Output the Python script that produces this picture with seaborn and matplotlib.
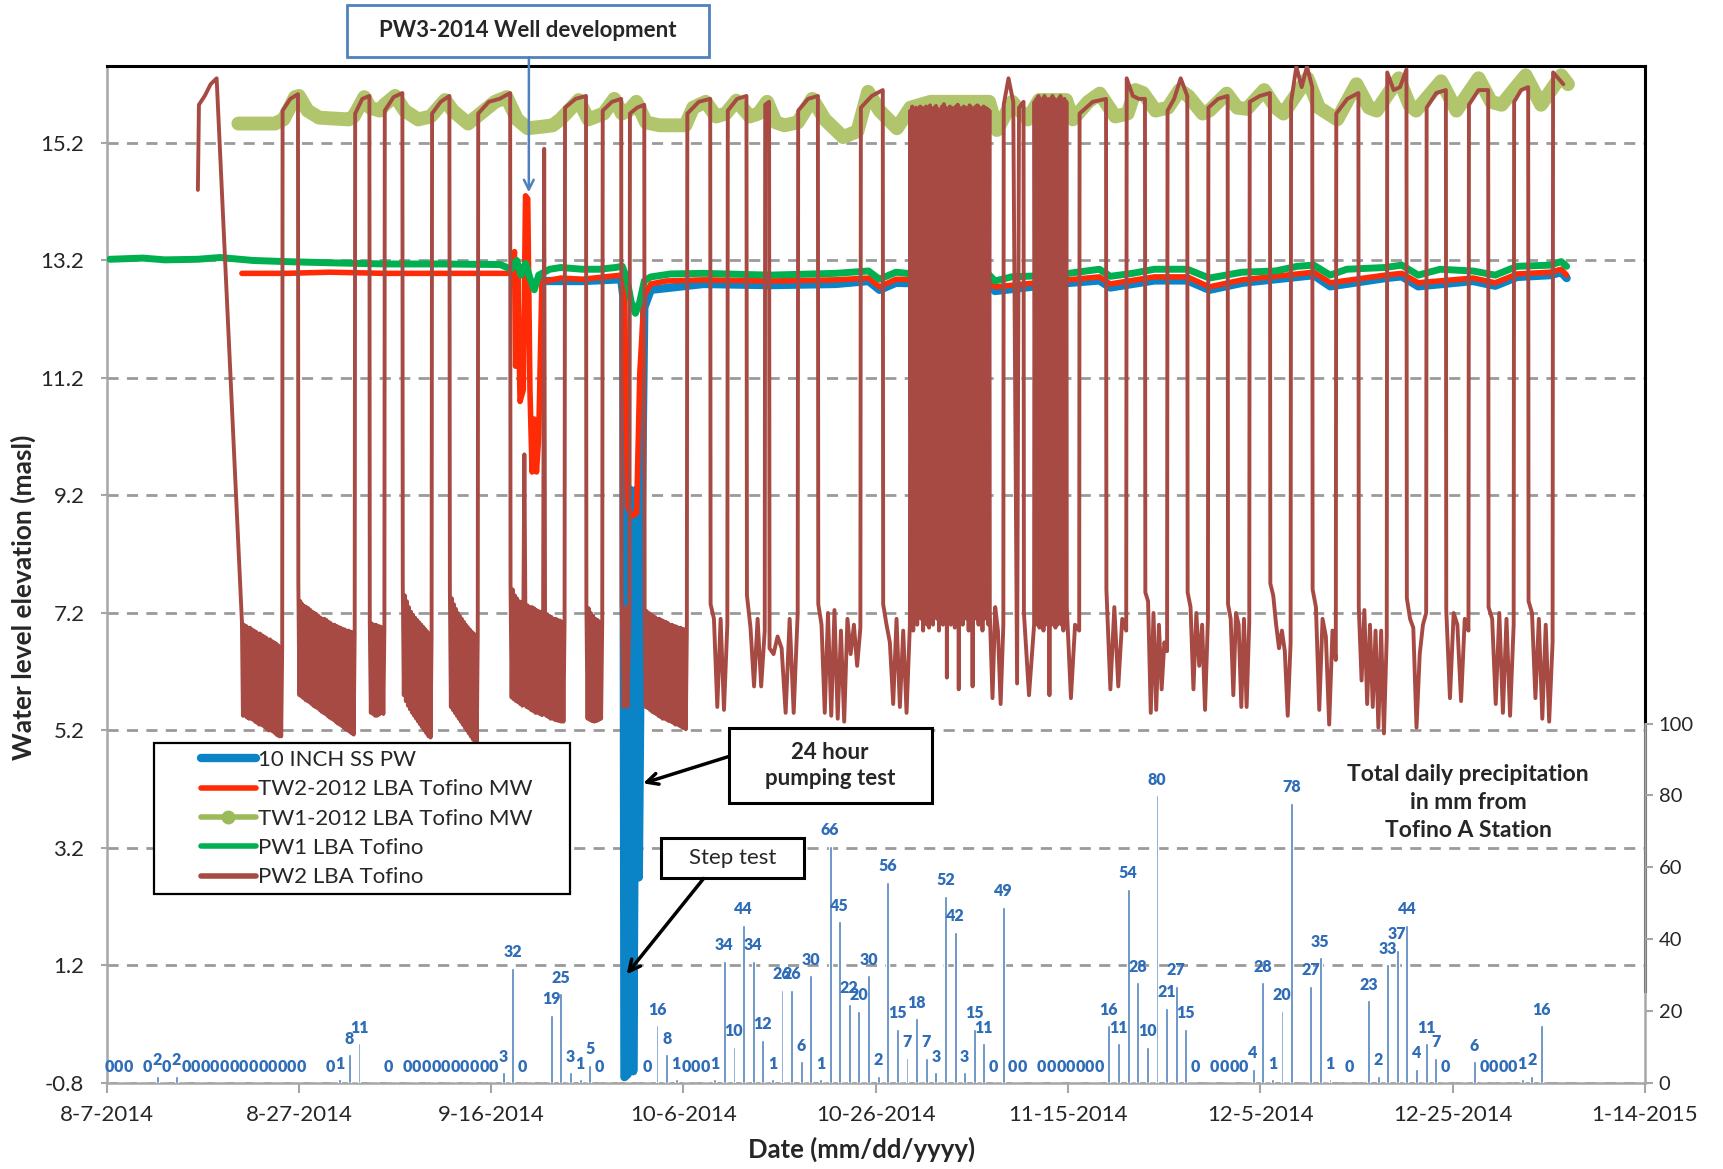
import numpy as np
import pandas as pd
import matplotlib
matplotlib.use("Agg")
import matplotlib.pyplot as plt
import seaborn as sns
from matplotlib.lines import Line2D
from matplotlib.patches import Rectangle
from matplotlib.legend_handler import HandlerLine2D
import matplotlib.ticker as mticker
import matplotlib.dates as mdates

# ------------------------------------------------------------------ data
START = pd.Timestamp("2014-08-07")
date_ticks = ["2014-08-07", "2014-08-27", "2014-09-16", "2014-10-06", "2014-10-26",
              "2014-11-15", "2014-12-05", "2014-12-25", "2015-01-14"]
level_ticks = [-0.8, 1.2, 3.2, 5.2, 7.2, 9.2, 11.2, 13.2, 15.2]
precip_ticks = [0, 20, 40, 60, 80, 100]

series_labels = ["10 INCH SS PW", "TW2-2012 LBA Tofino MW", "TW1-2012 LBA Tofino MW",
                 "PW1 LBA Tofino", "PW2 LBA Tofino"]

# days since 2014-08-07
blue_day = [45.74, 49.51, 53.52, 53.74, 53.86, 54.2, 54.43, 54.66, 54.77, 55.12,
            55.35, 55.69, 55.92, 56.6, 62.09, 68.95, 75.81, 79.25, 80.39, 82.1,
            91.82, 92.4, 98.69, 103.26, 104.4, 108.98, 112.41, 114.69, 118.12, 123.84,
            125.56, 127.27, 132.99, 134.71, 136.42, 142.14, 144.43, 146.71, 150.14, 151.29, 151.86]
blue_level = [12.85, 12.85, 12.88, 12.6, -0.7, -0.65, 9.3, 9.2, -0.6, 9.3,
              2.7, 9.3, 12.4, 12.7, 12.8, 12.78, 12.8, 12.85, 12.7, 12.82,
              12.78, 12.68, 12.8, 12.86, 12.74, 12.86, 12.86, 12.7, 12.82, 12.92,
              12.95, 12.76, 12.9, 12.93, 12.76, 12.85, 12.77, 12.92, 12.95, 13.0, 12.9]

tw2_day = [14.07, 18.64, 23.21, 28.93, 34.65, 41.51, 42.2, 42.42, 42.54, 42.77,
           43.0, 43.34, 43.57, 43.8, 44.03, 44.25, 44.48, 44.71, 44.94, 45.28,
           45.74, 47.23, 49.51, 51.8, 53.52, 53.86, 54.2, 54.66, 55.12, 55.46,
           55.92, 56.6, 58.2, 62.09, 68.95, 75.81, 79.25, 80.39, 82.1, 91.82,
           92.4, 98.69, 103.26, 104.4, 108.98, 112.41, 114.69, 118.12, 123.84, 125.56,
           127.27, 132.99, 134.71, 136.42, 142.14, 144.43, 146.71, 150.14, 151.29, 151.86]
tw2_level = [12.98, 12.98, 13.0, 12.98, 12.98, 12.98, 12.98, 13.35, 11.4, 12.9,
             10.8, 11.0, 14.3, 14.25, 11.0, 9.6, 10.5, 9.6, 10.2, 12.9,
             12.85, 12.9, 12.88, 12.92, 12.95, 12.7, 9.0, 8.85, 8.9, 11.3,
             12.6, 12.8, 12.85, 12.87, 12.85, 12.87, 12.9, 12.75, 12.88, 12.85,
             12.75, 12.85, 12.92, 12.8, 12.92, 12.92, 12.75, 12.87, 12.97, 13.0,
             12.82, 12.95, 12.98, 12.82, 12.9, 12.82, 12.97, 13.0, 13.05, 12.95]

tw1_day = [13.7, 17.5, 18.4, 19.6, 20.0, 20.9, 22.1, 25.2, 25.7, 26.8, 27.4, 28.4, 28.9,
           30.0, 31.0, 32.4, 33.7, 35.2, 36.0, 37.6, 38.5, 40.4, 41.6, 42.7, 43.8, 45.5,
           46.4, 47.2, 49.1, 50.1, 51.7, 52.8, 53.6, 54.3, 55.1, 56.1, 57.5, 60.2, 61.0,
           62.3, 63.4, 64.4, 65.5, 66.9, 67.8, 68.7, 69.6, 70.5, 71.9, 73.4, 74.7, 76.6,
           78.1, 79.2, 80.4, 82.2, 83.6, 85.7, 91.8, 92.6, 94.2, 95.8, 97.0, 99.8, 100.5,
           102.1, 103.3, 104.9, 106.2, 107.0, 107.8, 109.1, 110.4, 111.6, 112.5, 114.0,
           114.7, 116.5, 117.6, 118.6, 120.4, 121.6, 122.4, 124.9, 126.1, 128.0, 130.0,
           131.3, 132.1, 134.4, 135.5, 136.2, 138.8, 140.4, 142.7, 144.0, 145.1, 147.6,
           149.2, 151.3, 152.0]
tw1_level = [15.53, 15.53, 15.6, 15.98, 16.0, 15.75, 15.63, 15.6, 15.65, 15.98, 15.8, 15.75,
             15.85, 16.0, 15.75, 15.6, 15.65, 15.93, 15.75, 15.53, 15.65, 15.9, 15.98, 15.6,
             15.45, 15.48, 15.5, 15.6, 15.93, 15.6, 15.7, 15.95, 15.7, 15.75, 15.9, 15.55,
             15.5, 15.5, 15.8, 15.9, 15.65, 15.7, 15.92, 15.65, 15.7, 15.9, 15.55, 15.5,
             15.55, 15.95, 15.6, 15.3, 15.4, 16.07, 15.75, 15.45, 15.8, 15.9, 15.9, 15.42,
             15.9, 15.6, 15.93, 15.93, 15.6, 15.9, 16.04, 15.65, 15.7, 16.1, 16.05, 15.75,
             15.8, 16.1, 16.0, 15.7, 15.75, 16.04, 15.8, 15.78, 16.1, 15.8, 15.7, 16.3,
             15.8, 15.6, 16.2, 15.8, 15.75, 16.3, 15.85, 15.75, 16.25, 15.75, 16.3, 15.9,
             15.85, 16.35, 15.85, 16.35, 16.2]

pw1_day = [0.34, 3.77, 6.06, 9.49, 11.78, 15.21, 18.64, 23.21, 28.93, 34.65, 40.94, 42.08,
           42.65, 43.11, 43.57, 44.03, 44.48, 44.94, 46.08, 47.23, 49.51, 51.23, 52.94,
           53.63, 54.09, 54.55, 55.0, 55.46, 55.92, 56.6, 58.66, 62.09, 68.95, 75.81,
           79.25, 80.39, 82.1, 83.82, 91.82, 92.4, 94.11, 98.69, 100.97, 103.26, 104.4,
           106.69, 108.98, 112.41, 114.69, 118.12, 121.56, 123.84, 125.56, 127.27, 128.99,
           132.99, 134.71, 136.42, 138.71, 142.14, 144.43, 146.71, 150.14, 151.29, 151.86]
pw1_level = [13.22, 13.24, 13.21, 13.22, 13.25, 13.2, 13.18, 13.16, 13.14, 13.14, 13.13, 13.05,
             13.2, 12.95, 13.15, 12.9, 12.7, 12.95, 13.05, 13.08, 13.05, 13.05, 13.08,
             13.1, 12.9, 12.5, 12.3, 12.5, 12.85, 12.92, 12.97, 12.98, 12.95, 12.98,
             13.02, 12.88, 13.0, 12.97, 12.95, 12.85, 12.92, 12.95, 13.0, 13.05, 12.93,
             12.98, 13.05, 13.05, 12.9, 13.0, 13.02, 13.1, 13.12, 12.95, 13.05,
             13.08, 13.12, 12.95, 13.05, 13.02, 12.95, 13.1, 13.12, 13.18, 13.1]

# PW2 stretches: (first day, last day, levels) or, for the dense pumping-cycle
# bands, (first day, last day, cycle tops, cycle bottoms)
pw2_segments = [
    (9.49, 9.6, [14.4, 15.85]),
    (10.2, 11.44, [16.0, 16.2, 16.3]),
    (14.07, 18.26,
     [7.05, 7.0, 6.98, 6.95, 6.95, 6.92, 6.9, 6.88, 6.85, 6.85, 6.82, 6.8, 6.78, 6.75, 6.75,
      6.72, 6.7, 6.68, 6.65, 6.62, 6.6],
     [5.45, 5.45, 5.42, 5.4, 5.4, 5.38, 5.35, 5.33, 5.3, 5.3, 5.28, 5.25, 5.22, 5.2, 5.2,
      5.18, 5.15, 5.12, 5.1, 5.1]),
    (18.3, 19.9, [15.75, 15.95, 16.03]),
    (19.94, 25.8,
     [7.7, 7.4, 7.35, 7.32, 7.3, 7.28, 7.25, 7.22, 7.2, 7.18, 7.15, 7.12, 7.1, 7.1, 7.08,
      7.05, 7.03, 7.0, 7.0, 6.98, 6.96, 6.95, 6.93, 6.92, 6.9, 6.9, 6.88, 6.87, 6.85],
     [5.8, 5.78, 5.75, 5.72, 5.7, 5.68, 5.65, 5.62, 5.6, 5.58, 5.55, 5.52, 5.5, 5.48, 5.45,
      5.42, 5.4, 5.38, 5.35, 5.32, 5.3, 5.28, 5.25, 5.22, 5.2, 5.18, 5.15, 5.13]),
    (25.85, 27.33, [15.7, 15.95, 16.0]),
    (27.37, 28.89,
     [7.05, 7.02, 7.0, 7.0, 6.98, 6.97, 6.95, 6.95],
     [5.5, 5.48, 5.45, 5.45, 5.47, 5.5, 5.48]),
    (28.93, 30.76, [15.75, 15.98, 16.05]),
    (30.8, 33.8,
     [7.7, 7.5, 7.4, 7.3, 7.22, 7.17, 7.12, 7.08, 7.04, 7.0, 6.96, 6.92, 6.88, 6.84, 6.8],
     [5.8, 5.7, 5.62, 5.56, 5.5, 5.45, 5.4, 5.35, 5.3, 5.25, 5.2, 5.15, 5.1, 5.08]),
    (33.85, 35.65, [15.7, 15.9, 16.0]),
    (35.7, 38.6,
     [7.62, 7.45, 7.35, 7.27, 7.2, 7.15, 7.1, 7.05, 7.0, 6.96, 6.92, 6.88, 6.85, 6.82, 6.8],
     [5.6, 5.55, 5.5, 5.45, 5.4, 5.35, 5.3, 5.25, 5.2, 5.15, 5.1, 5.05, 5.0, 4.98]),
    (38.65, 41.97, [15.7, 15.9, 15.95, 16.05]),
    (42.01, 43.35,
     [7.7, 7.6, 7.5, 7.45, 7.4, 7.38, 7.35],
     [5.76, 5.73, 5.7, 5.68, 5.65, 5.62]),
    (43.45, 43.45, [9.9]),
    (43.55, 45.4,
     [7.35, 7.33, 7.3, 7.3, 7.28, 7.25, 7.23, 7.22, 7.2],
     [5.6, 5.58, 5.55, 5.53, 5.5, 5.5, 5.48, 5.46]),
    (45.51, 45.51, [15.1]),
    (45.6, 47.63,
     [7.2, 7.18, 7.15, 7.13, 7.1, 7.1, 7.08, 7.07, 7.05, 7.05],
     [5.45, 5.43, 5.4, 5.4, 5.38, 5.37, 5.36, 5.35, 5.35]),
    (47.68, 49.86, [15.8, 15.95, 16.0]),
    (49.9, 51.55,
     [7.35, 7.28, 7.2, 7.15, 7.1, 7.08, 7.05, 7.05],
     [5.4, 5.38, 5.36, 5.35, 5.36, 5.38, 5.4]),
    (51.6, 53.52, [15.75, 15.9, 15.95]),
    (53.56, 54.38, [7.4, 5.6, 7.3, 5.6, 7.25]),
    (54.43, 55.92, [15.7, 15.8, 15.85]),
    (55.96, 60.35,
     [7.25, 7.23, 7.2, 7.18, 7.15, 7.13, 7.1, 7.1, 7.08, 7.06, 7.05, 7.03, 7.0, 7.0, 6.98,
      6.97, 6.95, 6.95, 6.93, 6.92, 6.9],
     [5.6, 5.58, 5.55, 5.52, 5.5, 5.48, 5.45, 5.43, 5.4, 5.4, 5.38, 5.36, 5.35, 5.33, 5.3,
      5.3, 5.28, 5.26, 5.24, 5.22]),
    (60.4, 62.78, [15.7, 15.9, 15.95]),
    (62.82, 64.56, [7.35, 7.1, 5.6, 7.1, 5.55, 7.0]),
    (64.61, 66.55, [15.75, 15.95, 16.0]),
    (66.6, 68.45, [7.5, 6.95, 5.95, 7.1, 5.95, 6.9]),
    (68.5, 68.9, [15.85, 15.9]),
    (68.95, 71.88, [6.6, 6.5, 6.8, 6.6, 5.5, 7.1, 5.5, 7.2]),
    (71.93, 73.98, [15.75, 15.95, 16.0]),
    (74.02, 78.4, [7.35, 7.0, 5.5, 7.2, 5.45, 7.25, 5.4, 6.9, 5.35, 7.1, 6.5, 7.0, 6.3, 6.95]),
    (78.45, 80.73, [15.8, 16.0, 16.1]),
    (80.77, 83.55, [7.35, 7.0, 6.7, 5.65, 7.1, 5.6, 6.9, 5.5, 7.0]),
    (83.59, 91.82,
     [15.75, 15.82, 15.78, 15.8, 15.75, 15.82, 15.8, 15.76, 15.82, 15.8, 15.84, 15.76, 15.8,
      15.83, 15.78, 15.75, 15.82, 15.86, 15.8, 15.76, 15.82, 15.8, 15.75, 15.82, 15.85, 15.8,
      15.76, 15.82, 15.8, 15.78, 15.84, 15.8, 15.76, 15.82, 15.84, 15.8, 15.76, 15.82, 15.8,
      15.78, 15.75],
     [7.3, 6.9, 7.2, 7.0, 7.4, 7.1, 6.9, 7.3, 7.0, 6.95, 7.2, 7.0, 7.3, 7.1, 6.9, 7.2, 7.0,
      7.1, 6.1, 7.3, 7.0, 7.2, 6.95, 7.1, 5.9, 7.2, 7.0, 7.3, 7.1, 6.9, 7.0, 5.95, 7.2, 7.1,
      7.0, 7.3, 6.9, 7.1, 7.2, 7.0]),
    (91.86, 93.27, [7.2, 5.75, 7.3, 6.9, 5.65, 7.0]),
    (93.31, 94.3, [15.85, 16.3, 15.9]),
    (94.7, 94.7, [6.0]),
    (94.9, 95.37, [15.8, 15.9]),
    (95.41, 96.47, [7.2, 5.8, 7.0]),
    (96.51, 99.83,
     [15.9, 15.95, 16.0, 15.9, 15.95, 16.0, 15.9, 15.95, 15.9, 16.0, 15.95, 15.9, 15.95, 16.0,
      15.9, 15.95, 15.9],
     [7.1, 7.0, 6.95, 7.1, 6.9, 7.0, 7.2, 5.8, 7.0, 7.1, 6.95, 7.0, 7.2, 7.0, 6.9, 7.0]),
    (99.87, 101.16, [7.3, 5.75, 7.0, 6.9]),
    (101.2, 103.95, [15.7, 15.9, 15.95]),
    (103.99, 106.05, [7.6, 5.9, 7.3, 5.95, 7.1, 6.9]),
    (106.1, 108.0, [16.3, 16.0, 15.95, 15.95]),
    (108.04, 110.3, [7.55, 7.4, 5.5, 7.2, 5.55, 7.0, 5.9, 6.7, 6.55]),
    (110.35, 112.4, [15.75, 15.95, 16.3, 16.0]),
    (112.44, 114.55, [7.55, 7.3, 5.9, 7.2, 6.3, 7.0, 5.55, 7.1]),
    (114.6, 116.6, [15.8, 15.95, 16.0]),
    (116.64, 118.85, [7.35, 7.1, 5.8, 7.2, 7.0, 5.6, 7.1, 5.6, 7.05]),
    (118.9, 121.0, [15.9, 16.0, 16.05]),
    (121.04, 123.15, [7.7, 7.5, 7.0, 6.6, 6.9, 6.55, 5.45, 6.7]),
    (123.2, 125.4, [15.9, 16.5, 16.15, 16.5, 16.15]),
    (125.44, 127.85, [7.6, 7.3, 5.55, 7.1, 6.8, 5.3, 6.9, 6.4]),
    (127.9, 130.2, [15.7, 15.95, 16.05]),
    (130.24, 133.15, [7.3, 6.05, 7.25, 5.65, 7.0, 5.6, 6.9, 5.25, 6.9, 5.15, 6.8]),
    (133.2, 135.2, [16.4, 16.1, 16.15, 16.45]),
    (135.24, 137.25, [7.45, 7.1, 6.95, 5.25, 6.5, 7.0, 7.2]),
    (137.3, 139.3, [15.8, 16.05, 16.1]),
    (139.34, 141.65, [7.25, 5.75, 7.2, 7.0, 5.7, 7.1, 6.9]),
    (141.7, 143.7, [15.85, 16.1, 16.1]),
    (143.74, 146.35, [7.3, 7.1, 5.65, 7.2, 5.5, 7.1, 5.45, 7.0]),
    (146.4, 147.86, [15.9, 16.1, 16.15]),
    (147.9, 150.4, [7.4, 7.2, 5.75, 7.1, 5.4, 7.0, 5.35, 6.7]),
    (150.45, 151.52, [16.4, 16.3, 16.2]),
]

# daily precipitation (mm), one value per day from 2014-08-07; None = no value shown
precip_mm = [0, 0, 0, None, 0, 2, 0, 2, 0, 0,
             0, 0, 0, 0, 0, 0, 0, 0, 0, 0,
             0, None, None, 0, 1, 8, 11, None, None, 0,
             None, 0, 0, 0, 0, 0, 0, 0, 0, 0,
             0, 3, 32, 0, None, None, 19, 25, 3, 1,
             5, 0, None, None, None, None, 0, 16, 8, 1,
             0, 0, 0, 1, 34, 10, 44, 34, 12, 1,
             26, 26, 6, 30, 1, 66, 45, 22, 20, 30,
             2, 56, 15, 7, 18, 7, 3, 52, 42, 3,
             15, 11, 0, 49, 0, 0, None, 0, 0, 0,
             0, 0, 0, 0, 16, 11, 54, 28, 10, 80,
             21, 27, 15, 0, None, 0, 0, 0, 0, 4,
             28, 1, 20, 78, None, 27, 35, 1, None, 0,
             None, 23, 2, 33, 37, 44, 4, 11, 7, 0,
             None, None, 6, 0, 0, 0, 0, 1, 2, 16]

# ------------------------------------------------------------------ helpers
def to_dates(days):
    return START + pd.to_timedelta(np.asarray(days, dtype=float), unit="D")

def day_num(day):
    return mdates.date2num(START + pd.Timedelta(days=day))

pw2_day, pw2_level = [], []
for seg in pw2_segments:
    t0, t1 = seg[0], seg[1]
    if len(seg) == 4:                      # interleave cycle tops and bottoms
        tops, bots = seg[2], seg[3]
        levels = [None] * (len(tops) + len(bots))
        levels[0::2] = tops
        levels[1::2] = bots
    else:
        levels = seg[2]
    ts = np.linspace(t0, t1, len(levels)) if len(levels) > 1 else [t0]
    pw2_day.extend(ts)
    pw2_level.extend(levels)

# ------------------------------------------------------------------ style
sns.set_style("white")
plt.rcParams["font.family"] = ["Lato", "DejaVu Sans"]

C_BLUE = "#0A84C6"
C_RED = "#FF2B06"
C_TW1 = "#B1C66C"
C_GREEN = "#00B050"
C_BROWN = "#A64A43"
C_BAR = "#4F81BD"
C_BARLBL = "#2F6DB8"
C_GRID = "#9A9A9A"
C_AXIS = "#A6A6A6"

fig = plt.figure(figsize=(17.24, 11.69), dpi=100)
ax = fig.add_axes([0.06186, 0.07357, 0.95411 - 0.06186, 0.94357 - 0.07357])

sns.lineplot(x=to_dates(blue_day), y=blue_level, ax=ax, color=C_BLUE, linewidth=6,
             estimator=None, sort=False, zorder=2, legend=False)
sns.lineplot(x=to_dates(tw2_day), y=tw2_level, ax=ax, color=C_RED, linewidth=4,
             estimator=None, sort=False, zorder=3, legend=False)
sns.lineplot(x=to_dates(tw1_day), y=tw1_level, ax=ax, color=C_TW1, linewidth=10,
             estimator=None, sort=False, zorder=3.5, legend=False)
sns.lineplot(x=to_dates(pw1_day), y=pw1_level, ax=ax, color=C_GREEN, linewidth=5,
             estimator=None, sort=False, zorder=4, legend=False)
sns.lineplot(x=to_dates(pw2_day), y=pw2_level, ax=ax, color=C_BROWN, linewidth=2.8,
             estimator=None, sort=False, zorder=5, legend=False)

ax.set_ylim(-0.8, 16.51)
ax.set_yticks(level_ticks)
ax.yaxis.set_major_formatter(mticker.FormatStrFormatter("%.1f"))
xt = pd.to_datetime(date_ticks)
ax.set_xlim(xt[0], xt[-1])
ax.set_xticks(xt)
ax.set_xticklabels([f"{d.month}-{d.day}-{d.year}" for d in xt])
ax.grid(axis="y", color=C_GRID, linestyle=(0, (4, 3)), linewidth=2)
ax.grid(axis="x", visible=False)
ax.set_axisbelow(True)
ax.tick_params(axis="x", direction="out", length=7, width=1.5, color=C_AXIS,
               labelsize=16, pad=9, bottom=True)
ax.tick_params(axis="y", direction="out", length=4, width=1.5, color=C_AXIS,
               labelsize=16, pad=12, left=True)
for side in ("left", "bottom"):
    ax.spines[side].set_color(C_AXIS)
    ax.spines[side].set_linewidth(1.8)
ax.spines["top"].set_color("black")
ax.spines["top"].set_linewidth(2.2)
ax.spines["right"].set_color("black")
ax.spines["right"].set_linewidth(2.2)
ax.spines["right"].set_bounds(0.77, 16.51)

ax.set_ylabel("Water level elevation (masl)", fontsize=19, fontweight="bold")
ax.yaxis.set_label_coords(-0.046, 0.478)
ax.set_xlabel("Date (mm/dd/yyyy)", fontsize=18.5, fontweight="bold")
ax.xaxis.set_label_coords(0.491, -0.053)

# ------------------------------------------------------------------ precipitation
ax2 = ax.twinx()
p_dates = to_dates(np.arange(len(precip_mm)) + 0.25)
p_vals = np.array([np.nan if v is None else v for v in precip_mm], dtype=float)
ax2.bar(p_dates, np.nan_to_num(p_vals), width=0.3, color=C_BAR, zorder=2)
for d, v in zip(p_dates, p_vals):
    if np.isnan(v):
        continue
    ax2.annotate(f"{int(v)}", (d, v), xytext=(0, 5.5), textcoords="offset points",
                 ha="center", va="bottom", fontsize=11.5, fontweight="heavy",
                 color=C_BARLBL, zorder=3)
ax2.set_ylim(0, 283)
ax2.set_yticks(precip_ticks)
ax2.tick_params(axis="y", direction="out", length=6, width=1.5, color=C_AXIS,
                labelsize=14.5, pad=4)
for side in ("left", "top", "bottom"):
    ax2.spines[side].set_visible(False)
ax2.spines["right"].set_color(C_AXIS)
ax2.spines["right"].set_linewidth(1.8)
ax2.spines["right"].set_bounds(0, 100)
ax2.set_xlim(xt[0], xt[-1])

# ------------------------------------------------------------------ legend
class OffsetLineHandler(HandlerLine2D):
    def create_artists(self, legend, orig_handle, xdescent, ydescent, width, height,
                       fontsize, trans):
        arts = super().create_artists(legend, orig_handle, xdescent, ydescent, width,
                                      height, fontsize, trans)
        x0 = -xdescent + 0.42 * width
        x1 = -xdescent + width
        for a in arts:
            a.set_xdata(np.linspace(x0, x1, len(a.get_xdata())))
        return arts

handles = [
    Line2D([], [], color=C_BLUE, lw=6, solid_capstyle="round"),
    Line2D([], [], color=C_RED, lw=4, solid_capstyle="round"),
    Line2D([], [], color="#9BBB59", lw=4, marker="o", ms=9, solid_capstyle="round"),
    Line2D([], [], color=C_GREEN, lw=4, solid_capstyle="round"),
    Line2D([], [], color=C_BROWN, lw=4, solid_capstyle="round"),
]
leg = ax.legend(handles, series_labels, loc="upper left",
                bbox_to_anchor=(0.0307, 0.187, 0.2702, 0.147), mode="expand",
                borderaxespad=0, fontsize=16, frameon=True, fancybox=False,
                edgecolor="black", framealpha=1, handlelength=4.3, handletextpad=0.1,
                labelspacing=0.42, borderpad=0.3, numpoints=1,
                handler_map={Line2D: OffsetLineHandler()})
leg.get_frame().set_linewidth(1.6)
leg.set_zorder(20)

# ------------------------------------------------------------------ annotations (axes-fraction layout)
def box(x0, y0, x1, y1, ec, lw):
    ax2.add_patch(Rectangle((x0, y0), x1 - x0, y1 - y0, transform=ax2.transAxes,
                            fc="white", ec=ec, lw=lw, clip_on=False, zorder=30))

# PW3-2014 well development
box(0.1565, 1.0086, 0.3917, 1.0595, "#4F81BD", 2)
ax2.text(0.2738, 1.0346, "PW3-2014 Well development", transform=ax2.transAxes,
         ha="center", va="center", fontsize=16, fontweight="bold", zorder=31, clip_on=False)
ax2.annotate("", xy=(day_num(43.91), 14.36), xycoords=ax.transData,
             xytext=(0.2745, 1.0086), textcoords="axes fraction",
             arrowprops=dict(arrowstyle="->,head_length=0.7,head_width=0.35",
                             color="#4F81BD", lw=1.8, shrinkA=0, shrinkB=0),
             annotation_clip=False, zorder=31)

# 24 hour pumping test
box(0.4046, 0.2757, 0.5368, 0.3492, "black", 2.2)
ax2.text(0.4703, 0.3124, "24 hour\npumping test", transform=ax2.transAxes,
         ha="center", va="center", fontsize=16, fontweight="bold", linespacing=1.3,
         zorder=31)
ax2.annotate("", xy=(day_num(55.8), 4.30), xycoords=ax.transData,
             xytext=(0.4046, 0.3211), textcoords="axes fraction",
             arrowprops=dict(arrowstyle="->,head_length=0.8,head_width=0.4",
                             color="black", lw=2.5, shrinkA=0, shrinkB=0), zorder=31)

# Step test
box(0.3603, 0.2011, 0.4532, 0.2411, "black", 2.2)
ax2.text(0.4067, 0.2216, "Step test", transform=ax2.transAxes,
         ha="center", va="center", fontsize=16, zorder=31)
ax2.annotate("", xy=(day_num(54.09), 1.05), xycoords=ax.transData,
             xytext=(0.3881, 0.2011), textcoords="axes fraction",
             arrowprops=dict(arrowstyle="->,head_length=0.8,head_width=0.4",
                             color="black", lw=2.5, shrinkA=0, shrinkB=0), zorder=31)

ax2.text(0.885, 0.2757, "Total daily precipitation\nin mm from\nTofino A Station",
         transform=ax2.transAxes, ha="center", va="center", fontsize=16.5,
         fontweight="bold", linespacing=1.4, zorder=30)

fig.savefig("out.png", dpi=100)
